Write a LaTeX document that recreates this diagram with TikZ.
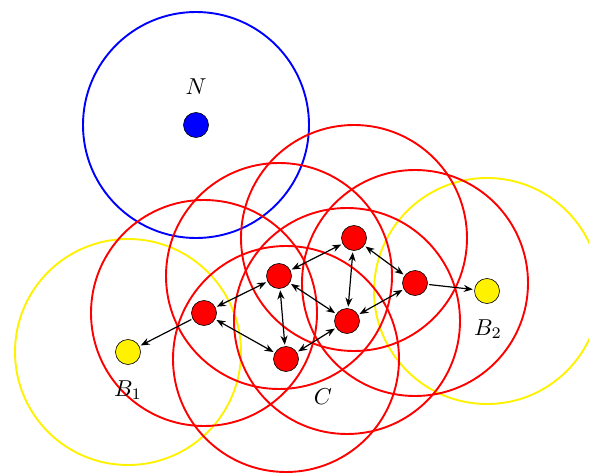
\documentclass[tikz,border=0pt]{standalone}
\usepackage{graphicx}
\usetikzlibrary{arrows.meta}
\newcommand{\biglbl}[1]{\scalebox{2.3}{#1}}
\begin{document}
\begin{tikzpicture}[x=1pt,y=-1pt,
  rangecircle/.style={line width=1.9pt},
  dot/.style={circle,draw=black,line width=0.6pt,minimum size=25pt,inner sep=0pt},
  rednode/.style={dot,fill=red},
  lbl/.style={inner sep=0pt},
  link/.style={{Stealth[length=9pt,width=7pt]}-{Stealth[length=9pt,width=7pt]},line width=1.2pt,shorten <=1.5pt,shorten >=1.5pt},
  onelink/.style={-{Stealth[length=9pt,width=7pt]},line width=1.2pt,shorten <=1.5pt,shorten >=1.5pt}]
\useasboundingbox (0,0) rectangle (589,473);
\clip (0,0) rectangle (589,473);
% ranges
\draw[rangecircle,blue] (196,125) circle (113);
\draw[rangecircle,yellow] (128,352) circle (113);
\draw[rangecircle,yellow] (487,291) circle (113);
\draw[rangecircle,red] (354,238) circle (113);
\draw[rangecircle,red] (279,276) circle (113);
\draw[rangecircle,red] (415,283) circle (113);
\draw[rangecircle,red] (204,313) circle (113);
\draw[rangecircle,red] (347,321) circle (113);
\draw[rangecircle,red] (286,359) circle (113);
% nodes
\node[dot,fill=blue] (n) at (196,125) {};
\node[lbl] (nl) at (196,87) {\biglbl{$N$}};
\node[rednode] (a) at (354,238) {};
\node[rednode] (b) at (279,276) {};
\node[rednode] (c) at (415,283) {};
\node[rednode] (d) at (204,313) {};
\node[rednode] (e) at (347,321) {};
\node[rednode] (f) at (286,359) {};
\node[dot,fill=yellow] (b1) at (128,352) {};
\node[dot,fill=yellow] (b2) at (487,291) {};
\node[lbl] (b1l) at (128,390) {\biglbl{$B_1$}};
\node[lbl] (b2l) at (488,329) {\biglbl{$B_2$}};
\node[lbl] (cl) at (323,397) {\biglbl{$C$}};
% links
\draw[link] (a) -- (b);
\draw[link] (a) -- (e);
\draw[link] (a) -- (c);
\draw[link] (b) -- (d);
\draw[link] (b) -- (f);
\draw[link] (b) -- (e);
\draw[link] (c) -- (e);
\draw[link] (e) -- (f);
\draw[link] (d) -- (f);
\draw[onelink] (d) -- (b1);
\draw[onelink] (c) -- (b2);
\end{tikzpicture}
\end{document}
